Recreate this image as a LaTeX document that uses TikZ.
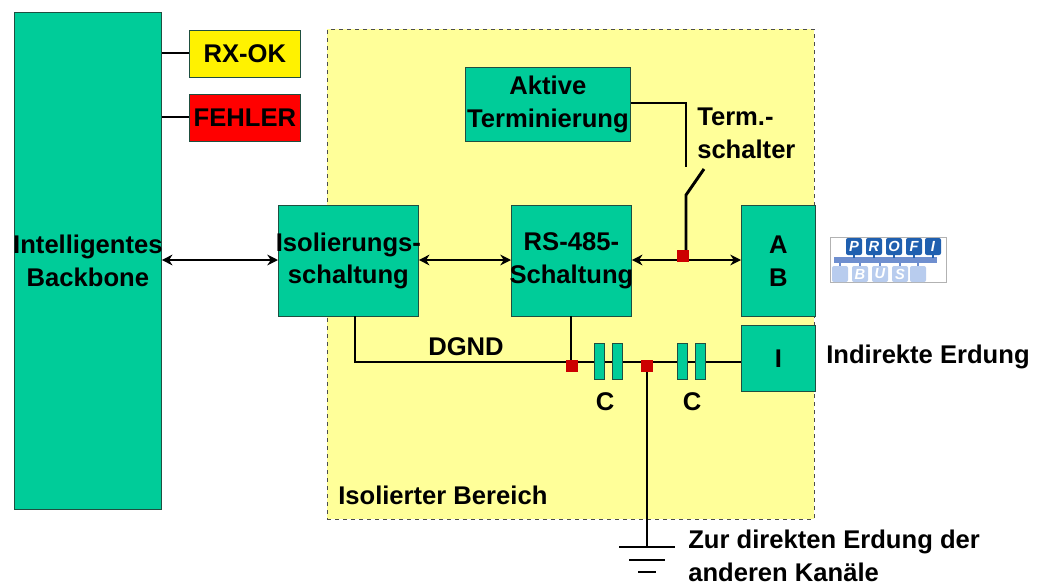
\documentclass[tikz,border=0pt]{standalone}
\usepackage{fontspec}
\setmainfont{Liberation Sans}
\usetikzlibrary{arrows.meta}
\definecolor{grn}{HTML}{00CC99}
\definecolor{yel}{HTML}{FFFF99}
\definecolor{rdot}{HTML}{CC0000}
\definecolor{edgec}{HTML}{1F4F40}
\definecolor{lblue}{HTML}{1F5FAF}
\definecolor{pblue}{HTML}{B8CCEE}
\definecolor{pbar}{HTML}{6F8FCF}
\newcommand{\cln}[1]{\makebox[0pt]{#1}}
\tikzset{
 x=0.75pt,y=-0.75pt,
 lbl/.style={font=\fontsize{19.2}{24.5}\selectfont\bfseries,text=black,inner sep=0pt,align=center},
 gbox/.style={draw=edgec,line width=0.6pt,fill=grn,lbl,anchor=north west,inner sep=0pt},
 wire/.style={line width=2.2pt,draw=black},
 dbl/.style={wire,{Stealth[length=8pt,width=8pt]}-{Stealth[length=8pt,width=8pt]}},
 dotn/.style={fill=rdot,draw=none,minimum size=9pt,inner sep=0pt},
 capn/.style={draw=edgec,line width=0.6pt,fill=grn,minimum width=7.5pt,minimum height=27.5pt,inner sep=0pt},
 pf/.style={fill=lblue,rounded corners=1.5pt,draw=none,minimum width=12pt,minimum height=12.75pt,inner sep=0pt,text=white,font=\fontsize{11}{11}\selectfont\bfseries\itshape},
 pb/.style={fill=pblue,rounded corners=1.5pt,draw=none,minimum width=12pt,minimum height=12pt,inner sep=0pt,text=white,font=\fontsize{11}{11}\selectfont\bfseries\itshape},
}
\begin{document}
\begin{tikzpicture}
\useasboundingbox (1,0) rectangle (1049,585);
\fill[white] (1,0) rectangle (1049,585);
% isolated area
\node[draw=black!70,dashed,line width=0.6pt,fill=yel,minimum width=365pt,minimum height=367.5pt,inner sep=0pt,anchor=north west] (area) at (328,29) {};
% boxes
\node[gbox,minimum width=110.25pt,minimum height=372.75pt] (bb) at (15,12) {\cln{Intelligentes}\\\cln{Backbone}};
\node[gbox,fill=yellow,minimum width=83.25pt,minimum height=35.25pt] (rx) at (190,30) {\cln{RX-OK}};
\node[gbox,fill=red,minimum width=83.25pt,minimum height=35.25pt] (fe) at (190,94) {\cln{FEHLER}};
\node[gbox,minimum width=123.75pt,minimum height=55.5pt] (at) at (466,67) {\cln{Aktive}\\\cln{Terminierung}};
\node[gbox,minimum width=105pt,minimum height=83.25pt] (iso) at (279,205) {\cln{Isolierungs-}\\\cln{schaltung}};
\node[gbox,minimum width=90pt,minimum height=83.25pt] (rs) at (512,205) {\cln{RS-485-}\\\cln{Schaltung}};
\node[gbox,minimum width=55.5pt,minimum height=83.25pt] (ab) at (742,205) {\cln{A}\\\cln{B}};
\node[gbox,minimum width=55.5pt,minimum height=49.5pt] (ii) at (742,325) {\cln{I}};
% coordinates
\coordinate (d1) at (573,362);
\coordinate (d2) at (648,362);
\coordinate (d3) at (687,260);
\coordinate (sw1) at (687,167);
\coordinate (sw2) at (687,195);
\coordinate (sw3) at (705,169);
\coordinate (tc) at (687,103);
\coordinate (gnd) at (648,547);
\coordinate (busy) at (0,260);
% wires
\draw[wire] (bb.east |- 0,53) -- (rx.west |- 0,53);
\draw[wire] (bb.east |- 0,117) -- (fe.west |- 0,117);
\draw[dbl] (bb.east |- busy) -- (iso.west |- busy);
\draw[dbl] (iso.east |- busy) -- (rs.west |- busy);
\draw[dbl] (rs.east |- busy) -- (ab.west |- busy);
\draw[wire] (at.east |- tc) -- (tc) -- (sw1);
\draw[wire] (d3) -- (sw2) -- (sw3);
\draw[wire] (356,316) -- (356,362) -- (d1);
\draw[wire] (572,316) -- (572,362);
\draw[wire] (d1) -- (ii.west |- d1);
\draw[wire] (d2) -- (gnd);
\draw[wire] (620,547) -- (676,547);
\draw[wire] (630,560) -- (666,560);
\draw[wire] (639,572) -- (657,572);
% capacitors
\node[capn] (c1) at (600,361.5) {};
\node[capn] (c2) at (618,361.5) {};
\node[capn] (c3) at (683,361.5) {};
\node[capn] (c4) at (701,361.5) {};
% dots
\node[dotn] (n1) at (573,366) {};
\node[dotn] (n2) at (647.5,366) {};
\node[dotn] (n3) at (684,256) {};
% labels
\node[lbl,anchor=west,align=left] (l1) at (698,133) {Term.-\\schalter};
\node[lbl,anchor=west] (l2) at (429,347) {DGND};
\node[lbl] (l3) at (606,402) {C};
\node[lbl] (l4) at (693,402) {C};
\node[lbl,anchor=west] (l5) at (827,357) {Indirekte Erdung};
\node[lbl,anchor=west] (l6) at (339,495) {Isolierter Bereich};
\node[lbl,anchor=west,align=left] (l7) at (689,556) {Zur direkten Erdung der\\anderen Kanäle};
% logo
\node[draw=black!30,fill=white,line width=0.6pt,minimum width=87pt,minimum height=33.75pt,inner sep=0pt,anchor=north west] (logo) at (831,237) {};
\fill[pbar] (835,257) rectangle (938,263);
\foreach \x in {855,875,895,915,934} \fill[lblue] (\x-1,254) rectangle (\x+1,258);
\foreach \x in {841,861,881,901,919} \fill[pbar] (\x-1,262) rectangle (\x+1,267);
\foreach \n/\x/\t in {a/855/P,b/875/R,c/895/O,d/915/F,e/934/I}
  \node[pf] (p\n) at (\x,246.5) {\t};
\foreach \n/\x/\t in {a/841/{},b/861/B,c/881/U,d/901/S,e/919/{}}
  \node[pb] (q\n) at (\x,274) {\t};
\end{tikzpicture}
\end{document}
